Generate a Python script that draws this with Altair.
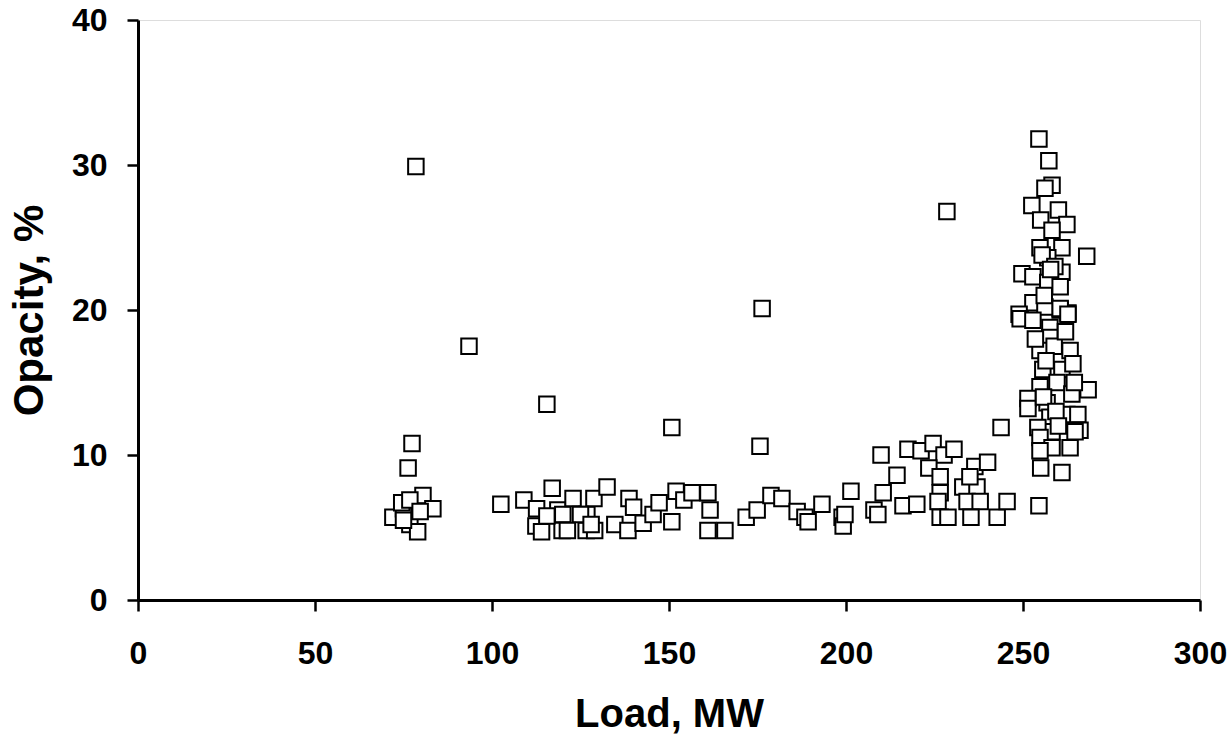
import altair as alt
import pandas as pd

# Load (MW) and opacity (%)
load_left = [78.5, 93.5, 77.4, 76.3, 80.5, 72.0, 75.0, 74.5, 76.8, 83.3, 76.8, 79.0, 79.7, 75.0]
opac_left = [29.9, 17.5, 10.8, 9.1, 7.2, 5.7, 6.3, 6.7, 6.9, 6.3, 5.2, 4.7, 6.1, 5.5]

load_mid = [115.5, 150.8, 175.7, 176.3, 102.5, 109.0, 117.0, 112.6, 112.4, 114.0, 118.6, 120.0,
            119.8, 122.9, 126.8, 126.6, 128.8, 132.5, 129.0, 134.7, 138.7, 140.0, 138.4, 142.7,
            145.5, 147.2, 150.8, 152.0, 154.2, 156.5, 161.0, 161.6, 161.0, 165.8, 171.8, 174.9,
            178.8, 181.9, 186.2, 188.4, 189.3, 193.2, 198.9, 199.2, 199.7, 201.4,
            115.5, 125.0, 121.3, 128.0]
opac_mid = [13.5, 11.9, 10.6, 20.1, 6.6, 6.9, 7.7, 6.3, 5.1, 4.7, 6.2, 5.9,
            4.8, 7.0, 5.9, 4.8, 7.0, 7.8, 4.8, 5.2, 7.0, 6.4, 4.8, 5.3,
            5.9, 6.7, 5.4, 7.5, 6.9, 7.4, 7.4, 6.2, 4.8, 4.8, 5.7, 6.2,
            7.2, 7.0, 6.1, 5.7, 5.4, 6.6, 5.7, 5.1, 5.9, 7.5,
            5.8, 5.9, 4.8, 5.2]

load_right = [209.9, 214.4, 210.5, 207.9, 209.0, 217.5, 221.2, 224.6, 227.7, 230.5, 223.4, 226.6,
              226.6, 216.1, 220.0, 226.0, 226.6, 228.8, 233.0, 237.0, 236.4, 240.0, 235.0, 234.2,
              237.9, 235.3, 242.7, 245.5, 243.8, 254.5, 228.5]
opac_right = [10.0, 8.6, 7.4, 6.2, 5.9, 10.4, 10.3, 10.8, 10.0, 10.4, 9.1, 8.5,
              7.4, 6.5, 6.6, 6.8, 5.7, 5.7, 7.8, 7.8, 9.2, 9.5, 8.5, 6.8,
              6.8, 5.7, 5.7, 6.8, 11.9, 6.5, 26.8]

load_high = [254.5, 257.3, 258.2, 256.2, 252.5, 260.0, 255.0, 262.4, 258.2, 261.0, 254.8, 268.0,
             257.0, 255.4, 261.0, 249.7, 252.8, 257.0, 260.5, 252.8, 260.5, 248.9, 256.2, 262.7,
             260.5, 249.2, 262.7, 252.8, 257.6, 257.6, 254.8, 260.5, 263.3, 255.6, 261.0, 264.1,
             254.8, 259.6, 268.4, 251.4, 251.4, 256.8, 262.4, 265.5, 257.6, 266.1, 264.7, 258.2,
             254.2, 254.8, 258.2, 263.3, 254.8, 255.0, 261.0,
             256.0, 259.0, 253.5, 258.8, 262.0, 255.8, 259.3, 263.8, 256.5, 260.0, 264.5, 257.8]
opac_high = [31.8, 30.3, 28.6, 28.4, 27.2, 26.9, 26.2, 25.9, 25.5, 24.3, 24.3, 23.7,
             23.6, 23.8, 22.6, 22.5, 22.3, 21.9, 21.6, 20.5, 20.0, 19.7, 20.2, 19.8,
             20.1, 19.4, 19.7, 19.3, 18.8, 18.1, 17.2, 16.8, 17.2, 15.9, 15.9, 16.3,
             14.7, 15.0, 14.5, 13.9, 13.2, 13.6, 12.8, 12.8, 12.6, 11.7, 11.6, 11.6,
             11.9, 11.2, 10.5, 10.5, 10.3, 9.1, 8.8,
             21.0, 23.0, 18.0, 17.5, 18.5, 14.0, 13.0, 14.2, 16.5, 12.0, 15.0, 22.8]

df = pd.DataFrame({
    "load": load_left + load_mid + load_right + load_high,
    "opacity": opac_left + opac_mid + opac_right + opac_high,
})

font = "Liberation Sans"

chart = alt.Chart(df).mark_square(
    fill="white", stroke="black", strokeWidth=2, size=240, opacity=1, fillOpacity=1
).encode(
    x=alt.X("load:Q", scale=alt.Scale(domain=[0, 300], nice=False),
            axis=alt.Axis(values=[0, 50, 100, 150, 200, 250, 300], title="Load, MW",
                          grid=False, domainColor="black", domainWidth=3,
                          tickColor="black", tickWidth=2.5, tickSize=11,
                          labelFont=font, labelFontSize=32, labelFontWeight="bold",
                          labelColor="black", labelBaseline="alphabetic", labelPadding=52,
                          labelFlush=False,
                          titleFont=font, titleFontSize=40, titleFontWeight="bold",
                          titleColor="black", titleBaseline="alphabetic", titleY=126)),
    y=alt.Y("opacity:Q", scale=alt.Scale(domain=[0, 40], nice=False),
            axis=alt.Axis(values=[0, 10, 20, 30, 40], title="Opacity, %",
                          grid=False, domainColor="black", domainWidth=3,
                          tickColor="black", tickWidth=2.5, tickSize=11,
                          labelFont=font, labelFontSize=32, labelFontWeight="bold",
                          labelColor="black", labelPadding=20, labelFlush=False,
                          titleFont=font, titleFontSize=42, titleFontWeight="bold",
                          titleColor="black", titleBaseline="alphabetic", titleX=-96,
                          titleY=290, titleAngle=270)),
).properties(
    width=1062, height=580,
    autosize=alt.AutoSizeParams(type="none"),
    padding={"left": 138, "top": 20, "right": 31, "bottom": 135},
).configure_view(
    stroke="black", strokeWidth=2.5
).configure(background="white")

chart.save("out.html", embed_options={"renderer": "svg", "actions": False})
